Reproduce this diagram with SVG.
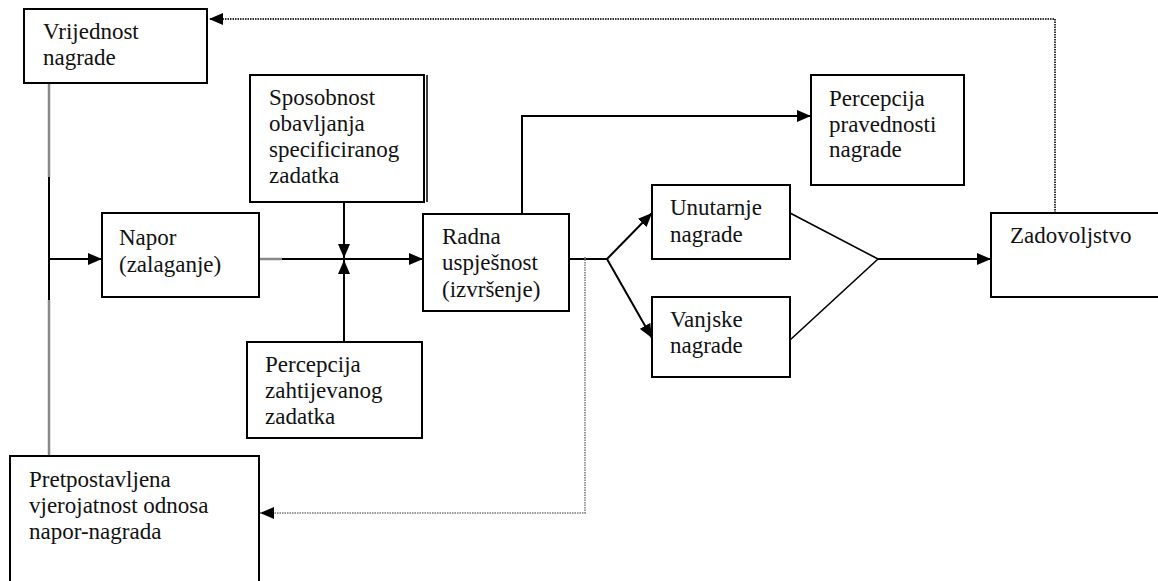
<svg xmlns="http://www.w3.org/2000/svg" width="1158" height="581" viewBox="0 0 1158 581">
<defs>
<marker id="arr" viewBox="0 0 14 12" refX="14" refY="6" markerWidth="14" markerHeight="12" markerUnits="userSpaceOnUse" orient="auto">
<path d="M0,0 L14,6 L0,12 z" fill="#000"/>
</marker>
</defs>
<rect width="1158" height="581" fill="#fff"/>
<g id="connectors" fill="none">
<line stroke="#888" stroke-width="2.5" x1="49" y1="83" x2="49" y2="177"/>
<line stroke="#000" stroke-width="2" x1="49" y1="177" x2="49" y2="300"/>
<line stroke="#888" stroke-width="2.5" x1="49" y1="300" x2="49" y2="456"/>
<line stroke="#000" stroke-width="2" x1="49" y1="259" x2="102" y2="259" marker-end="url(#arr)"/>
<line stroke="#888" stroke-width="2.5" x1="259" y1="259" x2="282" y2="259"/>
<line stroke="#000" stroke-width="2" x1="282" y1="259" x2="423" y2="259" marker-end="url(#arr)"/>
<line stroke="#000" stroke-width="2" x1="344" y1="202" x2="344" y2="258" marker-end="url(#arr)"/>
<line stroke="#000" stroke-width="2" x1="344" y1="342" x2="344" y2="260" marker-end="url(#arr)"/>
<polyline stroke="#000" stroke-width="2" points="522,214 522,116 811,116" marker-end="url(#arr)"/>
<line stroke="#000" stroke-width="2" x1="569" y1="259" x2="607" y2="259"/>
<line stroke="#000" stroke-width="2" x1="607" y1="259" x2="652" y2="213" marker-end="url(#arr)"/>
<line stroke="#000" stroke-width="2" x1="607" y1="259" x2="652" y2="338" marker-end="url(#arr)"/>
<polyline stroke="#000" stroke-width="1.6" points="790,213 878,259 790,340"/>
<line stroke="#000" stroke-width="2" x1="878" y1="259" x2="991" y2="259" marker-end="url(#arr)"/>
<polyline stroke="#333" stroke-width="2" stroke-dasharray="1.5 1" points="1055,213 1055,19 209,19" marker-end="url(#arr)"/>
<polyline stroke="#999" stroke-width="2" stroke-dasharray="1.5 1" points="585,257 585,513 260,513" marker-end="url(#arr)"/>
</g>
<g id="vrijednost">
<rect fill="#fff" stroke="#000" stroke-width="2" x="24" y="9" width="183" height="74"/>
<text x="43" y="39" fill="#111" style="font-family:'Liberation Serif',serif !important;font-size:23px">Vrijednost</text>
<text x="43" y="65" fill="#111" style="font-family:'Liberation Serif',serif !important;font-size:23px">nagrade</text>
</g>
<g id="sposobnost">
<rect fill="#fff" stroke="#000" stroke-width="2" x="250" y="75" width="174" height="127"/>
<line x1="427" y1="75" x2="427" y2="202" stroke="#000" stroke-width="1.5"/>
<text x="269" y="105" fill="#111" style="font-family:'Liberation Serif',serif !important;font-size:23px">Sposobnost</text>
<text x="269" y="131" fill="#111" style="font-family:'Liberation Serif',serif !important;font-size:23px">obavljanja</text>
<text x="269" y="157" fill="#111" style="font-family:'Liberation Serif',serif !important;font-size:23px">specificiranog</text>
<text x="269" y="183" fill="#111" style="font-family:'Liberation Serif',serif !important;font-size:23px">zadatka</text>
</g>
<g id="napor">
<rect fill="#fff" stroke="#000" stroke-width="2" x="102" y="213" width="157" height="84"/>
<text x="119" y="245" fill="#111" style="font-family:'Liberation Serif',serif !important;font-size:23px">Napor</text>
<text x="119" y="272" fill="#111" style="font-family:'Liberation Serif',serif !important;font-size:23px">(zalaganje)</text>
</g>
<g id="radna">
<rect fill="#fff" stroke="#000" stroke-width="2" x="423" y="214" width="146" height="97"/>
<text x="442" y="244" fill="#111" style="font-family:'Liberation Serif',serif !important;font-size:23px">Radna</text>
<text x="442" y="270" fill="#111" style="font-family:'Liberation Serif',serif !important;font-size:23px">uspješnost</text>
<text x="442" y="297" fill="#111" style="font-family:'Liberation Serif',serif !important;font-size:23px">(izvršenje)</text>
</g>
<g id="percepcija-zahtijevanog">
<rect fill="#fff" stroke="#000" stroke-width="2" x="247" y="342" width="175" height="96"/>
<text x="265" y="372" fill="#111" style="font-family:'Liberation Serif',serif !important;font-size:23px">Percepcija</text>
<text x="265" y="398" fill="#111" style="font-family:'Liberation Serif',serif !important;font-size:23px">zahtijevanog</text>
<text x="265" y="424" fill="#111" style="font-family:'Liberation Serif',serif !important;font-size:23px">zadatka</text>
</g>
<g id="pretpostavljena">
<rect fill="#fff" stroke="#000" stroke-width="2" x="10" y="456" width="249" height="140"/>
<text x="29" y="487" fill="#111" style="font-family:'Liberation Serif',serif !important;font-size:23px">Pretpostavljena</text>
<text x="29" y="513" fill="#111" style="font-family:'Liberation Serif',serif !important;font-size:23px">vjerojatnost odnosa</text>
<text x="29" y="539" fill="#111" style="font-family:'Liberation Serif',serif !important;font-size:23px">napor-nagrada</text>
</g>
<g id="percepcija-pravednosti">
<rect fill="#fff" stroke="#000" stroke-width="2" x="811" y="75" width="153" height="110"/>
<text x="829" y="106" fill="#111" style="font-family:'Liberation Serif',serif !important;font-size:23px">Percepcija</text>
<text x="829" y="132" fill="#111" style="font-family:'Liberation Serif',serif !important;font-size:23px">pravednosti</text>
<text x="829" y="157" fill="#111" style="font-family:'Liberation Serif',serif !important;font-size:23px">nagrade</text>
</g>
<g id="unutarnje">
<rect fill="#fff" stroke="#000" stroke-width="2" x="652" y="185" width="138" height="74"/>
<text x="670" y="215" fill="#111" style="font-family:'Liberation Serif',serif !important;font-size:23px">Unutarnje</text>
<text x="670" y="242" fill="#111" style="font-family:'Liberation Serif',serif !important;font-size:23px">nagrade</text>
</g>
<g id="vanjske">
<rect fill="#fff" stroke="#000" stroke-width="2" x="652" y="297" width="138" height="80"/>
<text x="670" y="327" fill="#111" style="font-family:'Liberation Serif',serif !important;font-size:23px">Vanjske</text>
<text x="670" y="353" fill="#111" style="font-family:'Liberation Serif',serif !important;font-size:23px">nagrade</text>
</g>
<g id="zadovoljstvo">
<rect fill="#fff" stroke="#000" stroke-width="2" x="991" y="213" width="175" height="84"/>
<text x="1010" y="243" fill="#111" style="font-family:'Liberation Serif',serif !important;font-size:23px">Zadovoljstvo</text>
</g>
</svg>
